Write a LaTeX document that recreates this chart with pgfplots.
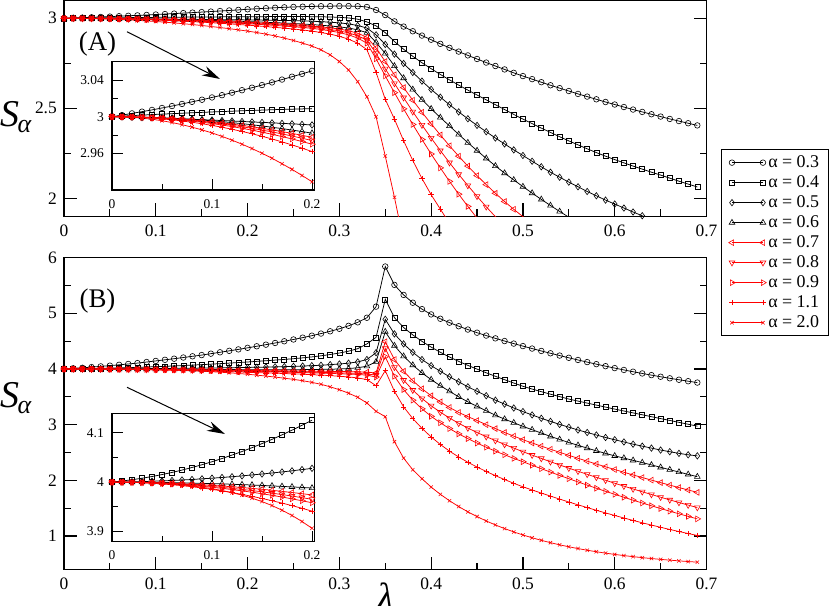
\documentclass[border=0pt]{standalone}
\usepackage{fontspec}
\setmainfont{Liberation Serif}
\usepackage{pgfplots}
\usepackage{pgfplotstable}
\pgfplotsset{compat=1.18}
\usetikzlibrary{arrows.meta}

\pgfplotstableread{
lam a03 a04 a05 a06 a07 a08 a09 a11 a20
0.00 3.0000 3.0000 3.0000 3.0000 3.0000 3.0000 3.0000 3.0000 3.0000
0.01 3.0017 3.0006 2.9997 3.0000 2.9999 2.9999 2.9999 2.9999 2.9998
0.02 3.0036 3.0012 2.9994 2.9998 2.9998 2.9997 2.9997 2.9996 2.9993
0.03 3.0055 3.0017 2.9990 2.9996 2.9995 2.9994 2.9993 2.9991 2.9984
0.04 3.0074 3.0023 2.9987 2.9993 2.9991 2.9990 2.9988 2.9985 2.9972
0.05 3.0095 3.0028 2.9983 2.9989 2.9986 2.9984 2.9981 2.9976 2.9956
0.06 3.0116 3.0033 2.9979 2.9984 2.9980 2.9977 2.9973 2.9966 2.9936
0.07 3.0139 3.0038 2.9975 2.9978 2.9972 2.9968 2.9963 2.9953 2.9913
0.08 3.0162 3.0043 2.9971 2.9971 2.9964 2.9958 2.9952 2.9939 2.9886
0.09 3.0185 3.0047 2.9967 2.9964 2.9954 2.9947 2.9939 2.9923 2.9856
0.10 3.0210 3.0052 2.9963 2.9955 2.9944 2.9935 2.9925 2.9905 2.9823
0.11 3.0235 3.0056 2.9958 2.9946 2.9932 2.9921 2.9909 2.9885 2.9785
0.12 3.0262 3.0060 2.9953 2.9935 2.9919 2.9906 2.9892 2.9863 2.9744
0.13 3.0289 3.0065 2.9948 2.9924 2.9905 2.9890 2.9873 2.9839 2.9700
0.14 3.0316 3.0068 2.9943 2.9912 2.9890 2.9873 2.9853 2.9814 2.9652
0.15 3.0345 3.0072 2.9938 2.9899 2.9873 2.9854 2.9831 2.9786 2.9601
0.16 3.0374 3.0076 2.9933 2.9885 2.9856 2.9834 2.9808 2.9757 2.9546
0.17 3.0405 3.0079 2.9927 2.9870 2.9837 2.9812 2.9783 2.9725 2.9487
0.18 3.0436 3.0082 2.9922 2.9854 2.9818 2.9789 2.9757 2.9692 2.9425
0.19 3.0467 3.0085 2.9916 2.9838 2.9797 2.9765 2.9729 2.9657 2.9359
0.20 3.0500 3.0088 2.9910 2.9820 2.9775 2.9740 2.9700 2.9620 2.9290
0.21 3.0530 3.0091 2.9903 2.9801 2.9752 2.9713 2.9669 2.9581 2.9210
0.22 3.0560 3.0093 2.9896 2.9781 2.9728 2.9685 2.9637 2.9540 2.9120
0.23 3.0585 3.0095 2.9888 2.9759 2.9702 2.9656 2.9603 2.9497 2.9020
0.24 3.0610 3.0096 2.9879 2.9736 2.9676 2.9626 2.9568 2.9453 2.8900
0.25 3.0630 3.0096 2.9868 2.9711 2.9648 2.9594 2.9531 2.9406 2.8770
0.26 3.0645 3.0095 2.9855 2.9683 2.9610 2.9550 2.9490 2.9350 2.8620
0.27 3.0660 3.0092 2.9838 2.9652 2.9570 2.9500 2.9440 2.9290 2.8460
0.28 3.0670 3.0085 2.9815 2.9616 2.9520 2.9450 2.9380 2.9210 2.8250
0.29 3.0675 3.0073 2.9785 2.9574 2.9470 2.9380 2.9300 2.9120 2.7970
0.30 3.0680 3.0055 2.9745 2.9523 2.9400 2.9300 2.9210 2.9000 2.7600
0.31 3.0680 3.0020 2.9690 2.9460 2.9310 2.9190 2.9080 2.8840 2.7130
0.32 3.0670 2.9950 2.9600 2.9360 2.9170 2.9030 2.8900 2.8620 2.6480
0.33 3.0630 2.9800 2.9460 2.9200 2.8950 2.8790 2.8620 2.8260 2.5640
0.34 3.0460 2.9580 2.9080 2.8660 2.8350 2.8050 2.7750 2.7000 2.4530
0.35 3.0180 2.9200 2.8550 2.8050 2.7600 2.7200 2.6800 2.5500 2.2350
0.36 2.9830 2.8710 2.8010 2.7350 2.6860 2.6380 2.5870 2.4400 2.0060
0.37 2.9540 2.8280 2.7490 2.6680 2.6150 2.5590 2.4970 2.3200 1.7600
0.38 2.9280 2.7890 2.6990 2.6050 2.5450 2.4810 2.4100 2.2100 nan
0.39 2.9040 2.7530 2.6510 2.5480 2.4780 2.4070 2.3270 2.1100 nan
0.40 2.8810 2.7200 2.6050 2.4970 2.4140 2.3350 2.2460 2.0200 nan
0.41 2.8580 2.6880 2.5620 2.4490 2.3520 2.2650 2.1690 1.9400 nan
0.42 2.8360 2.6580 2.5200 2.4020 2.2920 2.1980 2.0940 1.8600 nan
0.43 2.8150 2.6290 2.4800 2.3550 2.2340 2.1330 2.0230 nan nan
0.44 2.7940 2.6010 2.4420 2.3090 2.1790 2.0710 1.9550 nan nan
0.45 2.7740 2.5740 2.4050 2.2650 2.1260 2.0110 1.8900 nan nan
0.46 2.7540 2.5470 2.3700 2.2220 2.0760 1.9530 1.8300 nan nan
0.47 2.7350 2.5200 2.3350 2.1800 2.0280 1.8980 nan nan nan
0.48 2.7160 2.4930 2.3020 2.1400 1.9820 1.8450 nan nan nan
0.49 2.6970 2.4660 2.2690 2.1020 1.9390 nan nan nan nan
0.50 2.6790 2.4400 2.2380 2.0650 1.8980 nan nan nan nan
0.51 2.6620 2.4150 2.2060 2.0290 1.8600 nan nan nan nan
0.52 2.6450 2.3900 2.1750 1.9940 nan nan nan nan nan
0.53 2.6280 2.3660 2.1450 1.9600 nan nan nan nan nan
0.54 2.6120 2.3420 2.1170 1.9270 nan nan nan nan nan
0.55 2.5960 2.3190 2.0900 1.8950 nan nan nan nan nan
0.56 2.5800 2.2970 2.0640 1.8640 nan nan nan nan nan
0.57 2.5650 2.2750 2.0380 nan nan nan nan nan nan
0.58 2.5500 2.2540 2.0140 nan nan nan nan nan nan
0.59 2.5350 2.2340 1.9900 nan nan nan nan nan nan
0.60 2.5210 2.2150 1.9680 nan nan nan nan nan nan
0.61 2.5070 2.1970 1.9460 nan nan nan nan nan nan
0.62 2.4930 2.1790 1.9240 nan nan nan nan nan nan
0.63 2.4800 2.1620 1.9030 nan nan nan nan nan nan
0.64 2.4670 2.1450 1.8820 nan nan nan nan nan nan
0.65 2.4540 2.1290 nan nan nan nan nan nan nan
0.66 2.4410 2.1120 nan nan nan nan nan nan nan
0.67 2.4290 2.0950 nan nan nan nan nan nan nan
0.68 2.4170 2.0790 nan nan nan nan nan nan nan
0.69 2.4050 2.0630 nan nan nan nan nan nan nan
}\tabA

\pgfplotstableread{
lam b03 b04 b05 b06 b07 b08 b09 b11 b20
0.00 4.000 4.0000 4.0000 4.0000 4.0000 4.0000 4.0000 4.0000 4.0000
0.01 4.011 4.0022 4.0003 4.0000 3.9999 3.9999 3.9999 3.9999 3.9999
0.02 4.022 4.0049 4.0006 3.9999 3.9997 3.9997 3.9996 3.9994 3.9996
0.03 4.034 4.0079 4.0011 3.9997 3.9994 3.9992 3.9991 3.9987 3.9991
0.04 4.047 4.0114 4.0018 3.9995 3.9990 3.9986 3.9983 3.9976 3.9983
0.05 4.060 4.0154 4.0025 3.9993 3.9984 3.9978 3.9974 3.9963 3.9973
0.06 4.075 4.0197 4.0034 3.9989 3.9977 3.9969 3.9962 3.9947 3.9960
0.07 4.090 4.0245 4.0043 3.9985 3.9968 3.9957 3.9949 3.9928 3.9943
0.08 4.106 4.0298 4.0054 3.9981 3.9958 3.9944 3.9933 3.9906 3.9922
0.09 4.125 4.0354 4.0067 3.9976 3.9947 3.9929 3.9915 3.9881 3.9897
0.10 4.145 4.0415 4.0080 3.9970 3.9935 3.9913 3.9895 3.9853 3.9866
0.11 4.165 4.0480 4.0095 3.9964 3.9921 3.9894 3.9873 3.9822 3.9830
0.12 4.185 4.0550 4.0110 3.9957 3.9906 3.9874 3.9849 3.9788 3.9786
0.13 4.206 4.0623 4.0127 3.9949 3.9890 3.9852 3.9823 3.9751 3.9735
0.14 4.228 4.0701 4.0146 3.9941 3.9873 3.9829 3.9794 3.9711 3.9674
0.15 4.250 4.0784 4.0165 3.9933 3.9854 3.9803 3.9764 3.9668 3.9604
0.16 4.275 4.0870 4.0186 3.9923 3.9834 3.9776 3.9731 3.9622 3.9523
0.17 4.300 4.0961 4.0207 3.9913 3.9812 3.9747 3.9697 3.9574 3.9429
0.18 4.326 4.1057 4.0230 3.9903 3.9789 3.9717 3.9660 3.9522 3.9322
0.19 4.352 4.1156 4.0255 3.9892 3.9765 3.9684 3.9621 3.9468 3.9199
0.20 4.380 4.1260 4.0280 3.9880 3.9740 3.9650 3.9580 3.9410 3.9060
0.21 4.408 4.1370 4.0310 3.9875 3.9718 3.9620 3.9543 3.9350 3.8900
0.22 4.437 4.1480 4.0340 3.9872 3.9697 3.9590 3.9507 3.9300 3.8730
0.23 4.467 4.1600 4.0380 3.9872 3.9677 3.9560 3.9471 3.9240 3.8550
0.24 4.498 4.1720 4.0420 3.9875 3.9658 3.9530 3.9435 3.9190 3.8350
0.25 4.530 4.1850 4.0470 3.9880 3.9640 3.9500 3.9400 3.9130 3.8140
0.26 4.563 4.2000 4.0530 3.9890 3.9622 3.9465 3.9350 3.9060 3.7900
0.27 4.598 4.2170 4.0600 3.9905 3.9605 3.9430 3.9300 3.8980 3.7600
0.28 4.636 4.2370 4.0680 3.9925 3.9588 3.9390 3.9250 3.8900 3.7250
0.29 4.677 4.2600 4.0780 3.9955 3.9570 3.9355 3.9200 3.8810 3.6800
0.30 4.722 4.2870 4.0900 4.0000 3.9550 3.9320 3.9150 3.8700 3.6280
0.31 4.775 4.3200 4.1050 4.0080 3.9525 3.9270 3.9090 3.8570 3.5660
0.32 4.838 4.3650 4.1270 4.0220 3.9490 3.9210 3.9010 3.8400 3.4920
0.33 4.920 4.4500 4.1700 4.0500 3.9430 3.9120 3.8900 3.8100 3.3900
0.34 5.120 4.5690 4.2930 4.1300 3.9280 3.8900 3.8550 3.7000 3.2400
0.35 5.840 5.2510 4.8920 4.6700 4.4900 4.3700 4.2200 3.9700 3.1440
0.36 5.510 4.9220 4.6300 4.4200 4.1700 4.0300 3.8700 3.6000 2.6950
0.37 5.330 4.7450 4.4500 4.2300 3.9600 3.8000 3.6300 3.3200 2.4000
0.38 5.190 4.6120 4.3000 4.0700 3.7900 3.6200 3.4400 3.1100 2.1900
0.39 5.075 4.4970 4.1700 3.9300 3.6450 3.4700 3.2850 2.9350 2.0300
0.40 4.980 4.3930 4.0600 3.8100 3.5200 3.3400 3.1500 2.7800 1.8800
0.41 4.902 4.3000 3.9600 3.7000 3.4100 3.2250 3.0350 2.6450 1.7500
0.42 4.832 4.2150 3.8600 3.6000 3.3100 3.1200 2.9300 2.5250 1.6350
0.43 4.768 4.1370 3.7700 3.5000 3.2200 3.0250 2.8350 2.4200 1.5300
0.44 4.708 4.0650 3.6800 3.4100 3.1450 2.9400 2.7500 2.3250 1.4350
0.45 4.652 3.9980 3.6000 3.3300 3.0750 2.8600 2.6700 2.2400 1.3500
0.46 4.600 3.9320 3.5200 3.2500 3.0000 2.7850 2.5950 2.1600 1.2720
0.47 4.550 3.8690 3.4400 3.1700 2.9300 2.7150 2.5250 2.0850 1.2000
0.48 4.502 3.8080 3.3700 3.1000 2.8600 2.6450 2.4600 2.0150 1.1350
0.49 4.456 3.7480 3.3000 3.0350 2.7950 2.5800 2.3950 1.9480 1.0750
0.50 4.411 3.6900 3.2350 2.9700 2.7300 2.5150 2.3350 1.8850 1.0200
0.51 4.367 3.6400 3.1750 2.9100 2.6720 2.4540 2.2720 1.8280 0.9700
0.52 4.324 3.5930 3.1150 2.8500 2.6150 2.3940 2.2100 1.7720 0.9240
0.53 4.282 3.5480 3.0600 2.7900 2.5590 2.3350 2.1490 1.7180 0.8820
0.54 4.241 3.5040 3.0050 2.7350 2.5040 2.2770 2.0890 1.6640 0.8430
0.55 4.201 3.4600 2.9550 2.6800 2.4500 2.2200 2.0300 1.6120 0.8080
0.56 4.162 3.4240 2.9050 2.6300 2.3970 2.1640 1.9720 1.5610 0.7760
0.57 4.124 3.3880 2.8600 2.5800 2.3450 2.1090 1.9150 1.5120 0.7460
0.58 4.087 3.3520 2.8150 2.5300 2.2940 2.0550 1.8590 1.4630 0.7190
0.59 4.051 3.3160 2.7700 2.4850 2.2440 2.0020 1.8040 1.4160 0.6940
0.60 4.016 3.2800 2.7300 2.4400 2.1950 1.9490 1.7500 1.3700 0.6710
0.61 3.983 3.2460 2.6900 2.4000 2.1460 1.8970 1.6970 1.3250 0.6500
0.62 3.951 3.2120 2.6500 2.3600 2.0980 1.8460 1.6450 1.2810 0.6310
0.63 3.920 3.1780 2.6150 2.3200 2.0510 1.7960 1.5940 1.2390 0.6130
0.64 3.890 3.1440 2.5800 2.2780 2.0050 1.7470 1.5440 1.1980 0.5970
0.65 3.861 3.1100 2.5450 2.2350 1.9600 1.6980 1.4950 1.1580 0.5820
0.66 3.833 3.0760 2.5150 2.1920 1.9150 1.6500 1.4470 1.1190 0.5680
0.67 3.807 3.0420 2.4850 2.1500 1.8710 1.6030 1.4000 1.0820 0.5550
0.68 3.781 3.0080 2.4600 2.1080 1.8280 1.5570 1.3540 1.0460 0.5430
0.69 3.756 2.9740 2.4400 2.0670 1.7850 1.5120 1.3090 1.0110 0.5320
}\tabB

\pgfplotsset{
  crv/.style={line width=0.75bp},
  s03/.style={crv, black, mark=o, mark size=2.8bp, mark options={solid, line width=0.6bp}},
  s04/.style={crv, black, mark=square, mark size=2.5bp, mark options={solid, line width=0.6bp}},
  s05/.style={crv, black, mark=diamond, mark size=3.2bp, mark options={solid, line width=0.6bp}},
  s06/.style={crv, black, mark=triangle, mark size=3.3bp, mark options={solid, line width=0.6bp}},
  s07/.style={crv, red, mark=triangle, mark size=3.3bp, mark options={solid, line width=0.6bp, rotate=90}},
  s08/.style={crv, red, mark=triangle, mark size=3.3bp, mark options={solid, line width=0.6bp, rotate=180}},
  s09/.style={crv, red, mark=triangle, mark size=3.3bp, mark options={solid, line width=0.6bp, rotate=270}},
  s11/.style={crv, red, mark=+, mark size=2.7bp, mark options={solid, line width=0.55bp}},
  s20/.style={crv, red, mark=x, mark size=2.4bp, mark options={solid, line width=0.55bp}},
  mainax/.style={
    scale only axis, width=642.5bp, xmin=0, xmax=0.7,
    xtick={0,0.1,0.2,0.3,0.4,0.5,0.6,0.7},
    minor x tick num=1, minor y tick num=1,
    xtick pos=left, ytick pos=both, tick align=inside,
    axis line style={line width=1.6bp},
    tick style={black, line width=1.2bp},
    major tick length=13bp, minor tick length=7bp,
    ticklabel style={font=\fontsize{17.5}{20}\selectfont, inner sep=0pt},
    xticklabel style={yshift=-8bp},
    yticklabel style={xshift=-7bp},
    /pgf/number format/assume math mode=true,
  },
  insetax/.style={
    scale only axis, width=202.3bp, height=128.3bp, xmin=0, xmax=0.2023,
    xtick={0,0.1,0.2}, minor x tick num=1, minor y tick num=1,
    xtick pos=left, ytick pos=left, tick align=inside,
    axis line style={line width=1.3bp},
    tick style={black, line width=1bp},
    major tick length=11bp, minor tick length=6bp,
    ticklabel style={font=\fontsize{13.5}{15}\selectfont, inner sep=0pt},
    xticklabel style={yshift=-9bp},
    yticklabel style={xshift=-8bp},
    /pgf/number format/assume math mode=true,
    axis background/.style={fill=white},
    restrict x to domain=0:0.201,
  },
}

\begin{document}
\begin{tikzpicture}
\path[use as bounding box] (0bp,0bp) rectangle (831bp,-606bp);

% Panel A
\begin{axis}[mainax, at={(64bp,-0.3bp)}, anchor=north west, height=216bp,
  ymin=1.9, ymax=3.1, ytick={2,2.5,3},
  legend cell align=left,
  legend image code/.code={\draw plot coordinates {(0bp,0bp) (31bp,0bp)};},
  legend style={at={(1.0226,0.3116)}, anchor=north west, draw=black, line width=1.3bp,
    fill=white, inner xsep=7bp, inner ysep=3bp,
    font=\fontsize{18}{20}\selectfont,
    nodes={inner sep=2bp, text height=12.5bp, text depth=3.5bp},
    /tikz/every even column/.append style={column sep=4bp}},
]
\addplot[s03] table[x=lam,y=a03] {\tabA}; \addlegendentry{α = 0.3}
\addplot[s04] table[x=lam,y=a04] {\tabA}; \addlegendentry{α = 0.4}
\addplot[s05] table[x=lam,y=a05] {\tabA}; \addlegendentry{α = 0.5}
\addplot[s06] table[x=lam,y=a06] {\tabA}; \addlegendentry{α = 0.6}
\addplot[s07] table[x=lam,y=a07] {\tabA}; \addlegendentry{α = 0.7}
\addplot[s08] table[x=lam,y=a08] {\tabA}; \addlegendentry{α = 0.8}
\addplot[s09] table[x=lam,y=a09] {\tabA}; \addlegendentry{α = 0.9}
\addplot[s11] table[x=lam,y=a11] {\tabA}; \addlegendentry{α = 1.1}
\addplot[s20] table[x=lam,y=a20] {\tabA}; \addlegendentry{α = 2.0}
\end{axis}

% Inset A
\begin{axis}[insetax, at={(112bp,-61.7bp)}, anchor=north west,
  ymin=2.92, ymax=3.06, ytick={2.96,3,3.04}]
\addplot[s03] table[x=lam,y=a03] {\tabA};
\addplot[s04] table[x=lam,y=a04] {\tabA};
\addplot[s05] table[x=lam,y=a05] {\tabA};
\addplot[s06] table[x=lam,y=a06] {\tabA};
\addplot[s07] table[x=lam,y=a07] {\tabA};
\addplot[s08] table[x=lam,y=a08] {\tabA};
\addplot[s09] table[x=lam,y=a09] {\tabA};
\addplot[s11] table[x=lam,y=a11] {\tabA};
\addplot[s20] table[x=lam,y=a20] {\tabA};
\end{axis}

% Panel B
\begin{axis}[mainax, at={(64bp,-257.6bp)}, anchor=north west, height=311.9bp,
  ymin=0.4, ymax=6, ytick={1,2,3,4,5,6}]
\addplot[s03] table[x=lam,y=b03] {\tabB};
\addplot[s04] table[x=lam,y=b04] {\tabB};
\addplot[s05] table[x=lam,y=b05] {\tabB};
\addplot[s06] table[x=lam,y=b06] {\tabB};
\addplot[s07] table[x=lam,y=b07] {\tabB};
\addplot[s08] table[x=lam,y=b08] {\tabB};
\addplot[s09] table[x=lam,y=b09] {\tabB};
\addplot[s11] table[x=lam,y=b11] {\tabB};
\addplot[s20] table[x=lam,y=b20] {\tabB};
\end{axis}

% Inset B
\begin{axis}[insetax, at={(112bp,-413.3bp)}, anchor=north west,
  ymin=3.879, ymax=4.140, ytick={3.9,4,4.1}]
\addplot[s04] table[x=lam,y=b04] {\tabB};
\addplot[s05] table[x=lam,y=b05] {\tabB};
\addplot[s06] table[x=lam,y=b06] {\tabB};
\addplot[s07] table[x=lam,y=b07] {\tabB};
\addplot[s08] table[x=lam,y=b08] {\tabB};
\addplot[s09] table[x=lam,y=b09] {\tabB};
\addplot[s11] table[x=lam,y=b11] {\tabB};
\addplot[s20] table[x=lam,y=b20] {\tabB};
\end{axis}

% arrows
\draw[line width=1bp, -{Stealth[length=18bp,width=10bp]}] (127bp,-31.7bp) -- (220bp,-79bp);
\draw[line width=1bp, -{Stealth[length=18bp,width=10bp]}] (127bp,-387.3bp) -- (225bp,-434bp);

% panel labels
\node[inner sep=0pt, font=\fontsize{27}{30}\selectfont] at (97.5bp,-43.8bp) {(A)};
\node[inner sep=0pt, font=\fontsize{27}{30}\selectfont] at (97.5bp,-301.3bp) {(B)};

% axis labels
\node[anchor=base west, inner sep=0pt, font=\fontsize{38}{40}\selectfont] at (0bp,-126bp)
  {\textit{S}\kern-1.5bp\raisebox{-6bp}{\fontsize{26}{26}\selectfont\textit{α}}};
\node[anchor=base west, inner sep=0pt, font=\fontsize{38}{40}\selectfont] at (0bp,-407bp)
  {\textit{S}\kern-1.5bp\raisebox{-6bp}{\fontsize{26}{26}\selectfont\textit{α}}};
\node[anchor=base, inner sep=0pt, font=\fontsize{38}{40}\selectfont] at (386bp,-609bp) {\textit{λ}};
\end{tikzpicture}
\end{document}
